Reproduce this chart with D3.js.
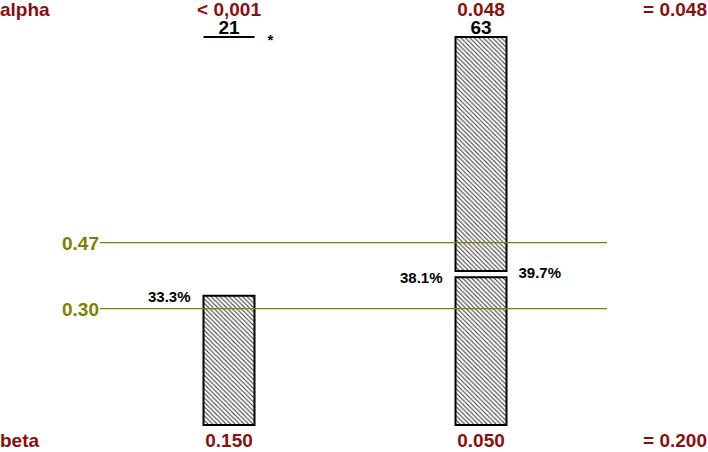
<!DOCTYPE html>
<html>
<head>
<meta charset="utf-8">
<script src="https://cdn.jsdelivr.net/npm/d3@7"></script>
<style>
  body { margin: 0; background: #fff; }
  svg text { font-family: 'Liberation Sans', Arial, sans-serif; font-weight: bold; }
</style>
</head>
<body>
<div id="chart"></div>
<script>
'use strict'

// Data
const groups = ['< 0,001', '0.048']
const counts = [21, 63]
const lowerTop = [0.333, 0.381]
const upperBottom = [1.0, 0.397]
const lowerLabels = ['33.3%', '38.1%']
const upperLabels = [null, '39.7%']
const betaValues = ['0.150', '0.050']
const alphaTotal = '= 0.048'
const betaTotal = '= 0.200'
const refLines = [0.47, 0.3]

function draw() {
  const dimensions = { width: 708, height: 452 }
  const red = '#8b0f0f'
  const olive = '#808000'
  const barWidth = 51
  const labelSize = '19px'

  const svg = d3
    .select('#chart')
    .append('svg')
    .attr('width', dimensions.width)
    .attr('height', dimensions.height)

  // Hatch pattern
  svg
    .append('defs')
    .append('pattern')
    .attr('id', 'hatch')
    .attr('patternUnits', 'userSpaceOnUse')
    .attr('width', 4.5)
    .attr('height', 4.5)
    .append('path')
    .attr('d', 'M-1,-1L5.5,5.5M-1,3.5L1,5.5M3.5,-1L5.5,1')
    .attr('stroke', '#333')
    .attr('stroke-width', 1)

  // Scales
  const xScale = d3.scalePoint().domain(groups).range([103, 607]).padding(0.5)
  const yScale = d3.scaleLinear().domain([0, 1]).range([425, 37])

  const bars = groups.map((g, i) => ({
    group: g,
    count: counts[i],
    lowerTop: lowerTop[i],
    upperBottom: upperBottom[i],
    lowerLabel: lowerLabels[i],
    upperLabel: upperLabels[i],
    beta: betaValues[i],
  }))

  const left = (d) => xScale(d.group) - barWidth / 2

  // Segment outline as a path so an empty segment still shows as a line
  const segment = (d, v0, v1) => {
    const p = d3.path()
    const x = left(d)
    p.moveTo(x, yScale(v0))
    p.lineTo(x + barWidth, yScale(v0))
    p.lineTo(x + barWidth, yScale(v1))
    p.lineTo(x, yScale(v1))
    p.closePath()
    return p.toString()
  }

  svg
    .selectAll('path.lower')
    .data(bars)
    .join('path')
    .attr('class', 'lower')
    .attr('d', (d) => segment(d, 0, d.lowerTop))
    .attr('fill', 'url(#hatch)')
    .attr('stroke', '#000')
    .attr('stroke-width', 2)

  svg
    .selectAll('path.upper')
    .data(bars)
    .join('path')
    .attr('class', 'upper')
    .attr('d', (d) => segment(d, d.upperBottom, 1))
    .attr('fill', 'url(#hatch)')
    .attr('stroke', '#000')
    .attr('stroke-width', 2)

  // Reference lines
  svg
    .selectAll('line.ref')
    .data(refLines)
    .join('line')
    .attr('class', 'ref')
    .attr('x1', 100)
    .attr('x2', 607)
    .attr('y1', (d) => yScale(d))
    .attr('y2', (d) => yScale(d))
    .attr('stroke', olive)
    .attr('stroke-width', 1.2)

  svg
    .selectAll('text.ref')
    .data(refLines)
    .join('text')
    .attr('class', 'ref')
    .attr('x', 99)
    .attr('y', (d) => yScale(d) + 7)
    .attr('text-anchor', 'end')
    .attr('fill', olive)
    .style('font-size', labelSize)
    .text((d) => d.toFixed(2))

  // Percent labels
  svg
    .selectAll('text.lower')
    .data(bars)
    .join('text')
    .attr('class', 'lower')
    .attr('x', (d) => left(d) - 13)
    .attr('y', (d) => yScale(d.lowerTop) + 6)
    .attr('text-anchor', 'end')
    .style('font-size', '15px')
    .text((d) => d.lowerLabel)

  svg
    .selectAll('text.upper')
    .data(bars.filter((d) => d.upperLabel))
    .join('text')
    .attr('class', 'upper')
    .attr('x', (d) => left(d) + barWidth + 12)
    .attr('y', (d) => yScale(d.upperBottom) + 7)
    .style('font-size', '15px')
    .text((d) => d.upperLabel)

  // Counts
  svg
    .selectAll('text.count')
    .data(bars)
    .join('text')
    .attr('class', 'count')
    .attr('x', (d) => xScale(d.group))
    .attr('y', 34)
    .attr('text-anchor', 'middle')
    .style('font-size', labelSize)
    .text((d) => d.count)

  svg
    .append('text')
    .attr('x', xScale(groups[0]) + barWidth / 2 + 13)
    .attr('y', 45)
    .style('font-size', '15px')
    .text('*')

  // Alpha row
  svg
    .selectAll('text.alpha')
    .data(bars)
    .join('text')
    .attr('class', 'alpha')
    .attr('x', (d) => xScale(d.group))
    .attr('y', 16)
    .attr('text-anchor', 'middle')
    .attr('fill', red)
    .style('font-size', labelSize)
    .text((d) => d.group)

  // Beta row
  svg
    .selectAll('text.beta')
    .data(bars)
    .join('text')
    .attr('class', 'beta')
    .attr('x', (d) => xScale(d.group))
    .attr('y', 447)
    .attr('text-anchor', 'middle')
    .attr('fill', red)
    .style('font-size', labelSize)
    .text((d) => d.beta)

  const edge = [
    { x: 0, y: 16, anchor: 'start', text: 'alpha' },
    { x: 707, y: 16, anchor: 'end', text: alphaTotal },
    { x: 0, y: 447, anchor: 'start', text: 'beta' },
    { x: 707, y: 447, anchor: 'end', text: betaTotal },
  ]

  svg
    .selectAll('text.edge')
    .data(edge)
    .join('text')
    .attr('class', 'edge')
    .attr('x', (d) => d.x)
    .attr('y', (d) => d.y)
    .attr('text-anchor', (d) => d.anchor)
    .attr('fill', red)
    .style('font-size', labelSize)
    .text((d) => d.text)
}

draw()
</script>
</body>
</html>
